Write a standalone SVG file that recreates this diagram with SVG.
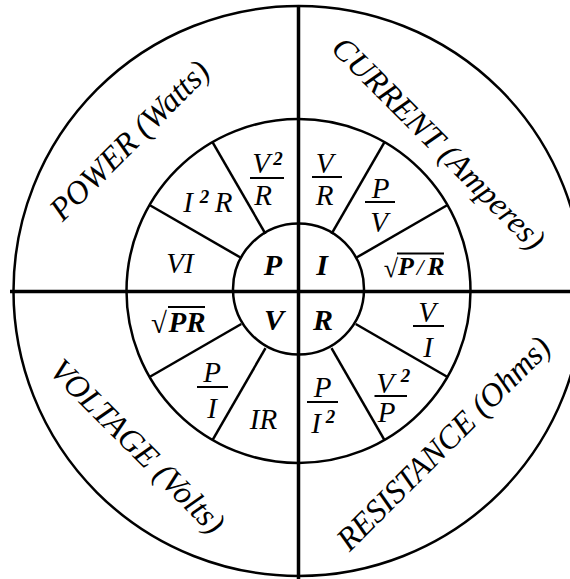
<svg xmlns="http://www.w3.org/2000/svg" width="570" height="579" viewBox="0 0 570 579">
<style>
.ring{fill:none;stroke:#000;stroke-width:2.5}
.axis{stroke:#000;stroke-width:3.5}
.spoke{stroke:#000;stroke-width:2.5}
.bar{stroke:#000;stroke-width:2}
text{font-family:"Liberation Serif","Times New Roman",serif;fill:#000}
.big{font-size:30px;font-weight:bold;font-style:italic;text-anchor:middle}
.t{font-size:29px;font-style:italic;text-anchor:middle}
.sup{font-size:19px;font-weight:bold;font-style:italic;text-anchor:middle}
.bt{font-size:26px;font-weight:bold;font-style:italic;text-anchor:middle}
.rad{font-size:26px;text-anchor:middle}
.lbl{font-size:32.5px;font-style:italic;text-anchor:middle}
</style>
<rect width="570" height="579" fill="#fff"/>
<g id="rings">
<circle class="ring" cx="298.5" cy="291" r="285"/>
<circle class="ring" cx="298.5" cy="291" r="172"/>
<circle class="ring" cx="298.5" cy="289" r="65.5"/>
</g>
<g id="connectors">
<line class="axis" x1="10" y1="291.5" x2="570" y2="291.5"/>
<line class="axis" x1="298.5" y1="6" x2="298.5" y2="579"/>
<line class="spoke" x1="265.5" y1="233.8" x2="212.5" y2="142"/>
<line class="spoke" x1="241.3" y1="258" x2="149.5" y2="205"/>
<line class="spoke" x1="331.5" y1="233.8" x2="384.5" y2="142"/>
<line class="spoke" x1="355.7" y1="258" x2="447.5" y2="205"/>
<line class="spoke" x1="265.5" y1="348.2" x2="212.5" y2="440"/>
<line class="spoke" x1="241.3" y1="324" x2="149.5" y2="377"/>
<line class="spoke" x1="331.5" y1="348.2" x2="384.5" y2="440"/>
<line class="spoke" x1="355.7" y1="324" x2="447.5" y2="377"/>
</g>
<g id="center">
<text class="big" x="273" y="275">P</text>
<text class="big" x="322" y="275">I</text>
<text class="big" x="274" y="330">V</text>
<text class="big" x="323" y="330">R</text>
</g>
<g id="power-formulas">
<text class="t" x="180" y="273">VI</text>
<text class="t" x="188" y="212">I</text>
<text class="sup" x="204.5" y="203">2</text>
<text class="t" x="223.5" y="212">R</text>
<text class="t" x="261" y="173">V</text>
<text class="sup" x="278" y="165">2</text>
<line class="bar" x1="250" y1="178" x2="284" y2="178"/>
<text class="t" x="263" y="205">R</text>
</g>
<g id="current-formulas">
<text class="t" x="324.5" y="173">V</text>
<line class="bar" x1="312" y1="177" x2="342" y2="177"/>
<text class="t" x="324.5" y="205">R</text>
<text class="t" x="380.5" y="198">P</text>
<line class="bar" x1="365" y1="202" x2="395" y2="202"/>
<text class="t" x="379" y="232">V</text>
<text class="rad" x="391" y="277">√</text>
<line class="bar" x1="397" y1="253.5" x2="444" y2="253.5"/>
<text class="bt" x="406" y="275">P</text>
<text class="t" x="420" y="275" style="font-size:24px">/</text>
<text class="bt" x="436" y="275">R</text>
</g>
<g id="voltage-formulas">
<text class="rad" x="159" y="333" style="font-size:29px">√</text>
<line class="bar" x1="168" y1="307" x2="205" y2="307"/>
<text class="bt" x="187" y="332" style="font-size:29px">PR</text>
<text class="t" x="212" y="382">P</text>
<line class="bar" x1="197" y1="387" x2="228" y2="387"/>
<text class="t" x="212" y="418">I</text>
<text class="t" x="263.5" y="429">IR</text>
</g>
<g id="resistance-formulas">
<text class="t" x="322.5" y="397">P</text>
<line class="bar" x1="307" y1="402" x2="338" y2="402"/>
<text class="t" x="316" y="433">I</text>
<text class="sup" x="330.5" y="423">2</text>
<text class="t" x="385" y="393">V</text>
<text class="sup" x="405.5" y="382">2</text>
<line class="bar" x1="374.5" y1="396" x2="407" y2="396"/>
<text class="t" x="386.5" y="422">P</text>
<text class="t" x="427" y="322">V</text>
<line class="bar" x1="413" y1="326" x2="444" y2="326"/>
<text class="t" x="428" y="357">I</text>
</g>
<g id="labels">
<text class="lbl" transform="translate(137,148) rotate(-45)">POWER (Watts)</text>
<text class="lbl" transform="translate(431,151) rotate(45)">CURRENT (Amperes)</text>
<text class="lbl" transform="translate(130,454) rotate(45)">VOLTAGE (Volts)</text>
<text class="lbl" transform="translate(451,451) rotate(-45)">RESISTANCE (Ohms)</text>
</g>
</svg>
